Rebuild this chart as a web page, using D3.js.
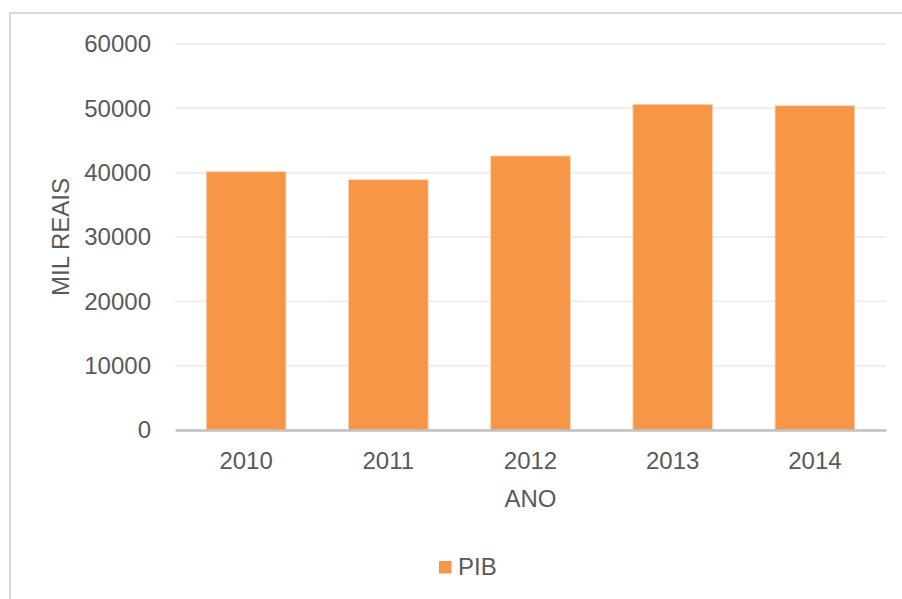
<!DOCTYPE html>
<html>
<head>
<meta charset="utf-8">
<script src="https://cdn.jsdelivr.net/npm/d3@7"></script>
<style>
  html, body { margin: 0; padding: 0; background: #ffffff; }
  svg { display: block; font-family: "Liberation Sans", Arial, sans-serif; }
</style>
</head>
<body>
<svg id="chart" width="902" height="599"></svg>
<script>
const categories = ["2010", "2011", "2012", "2013", "2014"];
const pibValues = [40150, 38900, 42600, 50620, 50400];
const yTicks = [0, 10000, 20000, 30000, 40000, 50000, 60000];
const seriesName = "PIB";
const xTitle = "ANO";
const yTitle = "MIL REAIS";

const svg = d3.select("#chart");
const W = 902, H = 599;
const plot = { left: 175, right: 886, top: 44, bottom: 430 };
const textColor = "#595959";
const barColor = "#F79646";

// outer chart border (top & left visible)
svg.append("rect")
  .attr("x", 10).attr("y", 13)
  .attr("width", W + 20).attr("height", H + 20)
  .attr("fill", "#ffffff")
  .attr("stroke", "#d9d9d9").attr("stroke-width", 2);

const x = d3.scaleBand()
  .domain(categories)
  .range([plot.left, plot.right])
  .paddingInner(0.44)
  .paddingOuter(0.22);

const y = d3.scaleLinear()
  .domain([0, 60000])
  .range([plot.bottom, plot.top]);

// gridlines
svg.append("g")
  .selectAll("line")
  .data(yTicks.filter(d => d > 0))
  .join("line")
  .attr("x1", plot.left).attr("x2", plot.right)
  .attr("y1", d => y(d)).attr("y2", d => y(d))
  .attr("stroke", "#eeeeee").attr("stroke-width", 2);

// y axis labels
const yAxis = d3.axisLeft(y).tickValues(yTicks).tickSize(0).tickPadding(0).tickFormat(d3.format("d"));
const yg = svg.append("g").attr("transform", `translate(${plot.left - 24},0)`).call(yAxis);
yg.select(".domain").remove();
yg.selectAll("text")
  .attr("fill", textColor)
  .attr("font-size", 24)
  .attr("font-family", "Liberation Sans, Arial, sans-serif");

// bars
svg.append("g")
  .selectAll("rect")
  .data(categories.map((c, i) => ({ c, v: pibValues[i] })))
  .join("rect")
  .attr("x", d => x(d.c))
  .attr("y", d => y(d.v))
  .attr("width", x.bandwidth())
  .attr("height", d => y(0) - y(d.v))
  .attr("fill", barColor)
  .attr("stroke", "#fbd3b4")
  .attr("stroke-width", 0.8);

// x axis
const xAxis = d3.axisBottom(x).tickSize(0).tickPadding(22);
const xg = svg.append("g").attr("transform", `translate(0,${plot.bottom})`).call(xAxis);
xg.select(".domain")
  .attr("stroke", "#bfbfbf").attr("stroke-width", 2.5);
xg.selectAll("text")
  .attr("fill", textColor)
  .attr("font-size", 24)
  .attr("font-family", "Liberation Sans, Arial, sans-serif");

// axis titles
svg.append("text")
  .attr("x", (plot.left + plot.right) / 2)
  .attr("y", 507)
  .attr("text-anchor", "middle")
  .attr("fill", textColor)
  .attr("font-size", 24)
  .text(xTitle);

svg.append("text")
  .attr("transform", `translate(69,${(plot.top + plot.bottom) / 2}) rotate(-90)`)
  .attr("text-anchor", "middle")
  .attr("fill", textColor)
  .attr("font-size", 24)
  .text(yTitle);

// legend
const lg = svg.append("g");
lg.append("rect")
  .attr("x", 439).attr("y", 561)
  .attr("width", 12.5).attr("height", 12.5)
  .attr("fill", barColor);
lg.append("text")
  .attr("x", 458).attr("y", 575)
  .attr("fill", textColor)
  .attr("font-size", 24)
  .text(seriesName);
</script>
</body>
</html>
